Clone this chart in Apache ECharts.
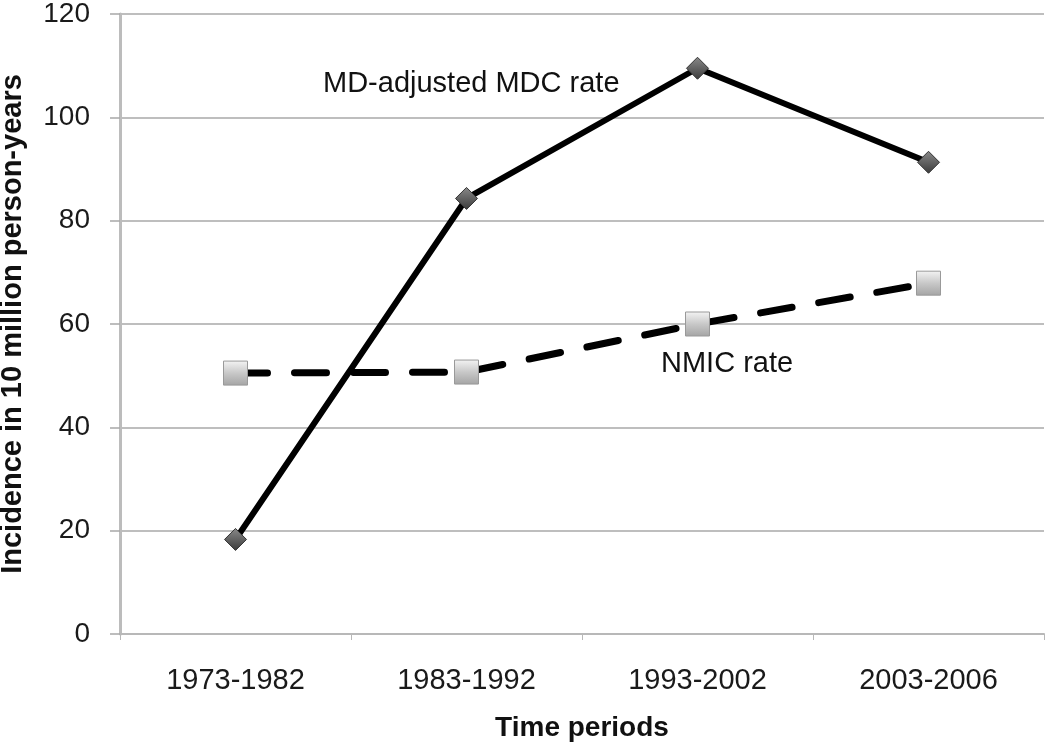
<!DOCTYPE html>
<html><head><meta charset="utf-8">
<script src="https://cdn.jsdelivr.net/npm/echarts@6/dist/echarts.min.js"></script>
<style>html,body{margin:0;padding:0;background:#fff}#c{width:1050px;height:748px}</style>
</head><body><div id="c"></div>
<script>
const categories = ['1973-1982', '1983-1992', '1993-2002', '2003-2006'];
const mdAdjustedMdcRate = [18.3, 84.3, 109.5, 91.3];
const nmicRate = [50.5, 50.7, 60.0, 67.9];
const yTicks = { min: 0, max: 120, interval: 20 };

const chart = echarts.init(document.getElementById('c'));
const font = 'Liberation Sans, Arial, sans-serif';
chart.setOption({
  animation: false,
  backgroundColor: '#fff',
  grid: { left: 120, right: 6, top: 14, bottom: 114, containLabel: false, outerBoundsMode: 'none' },
  xAxis: {
    type: 'category', data: categories, boundaryGap: true,
    name: 'Time periods', nameLocation: 'middle', nameGap: 80,
    nameTextStyle: { fontFamily: font, fontSize: 28, fontWeight: 'bold', color: '#111' },
    axisLine: { lineStyle: { color: '#b8b8b8', width: 2 } },
    axisTick: { show: true, length: 6, lineStyle: { color: '#b8b8b8', width: 1 } },
    axisLabel: { fontFamily: font, fontSize: 29, color: '#1a1a1a', margin: 32 }
  },
  yAxis: {
    type: 'value', min: yTicks.min, max: yTicks.max, interval: yTicks.interval,
    name: 'Incidence in 10 million person-years', nameLocation: 'middle', nameGap: 93,
    nameTextStyle: { fontFamily: font, fontSize: 29, fontWeight: 'bold', color: '#111' },
    axisLine: { show: true, lineStyle: { color: '#bcbcbc', width: 3 } },
    axisTick: { show: true, length: 10, lineStyle: { color: '#a8a8a8', width: 1.5 } },
    axisLabel: { fontFamily: font, fontSize: 28, color: '#1a1a1a', margin: 30 },
    splitLine: { lineStyle: { color: '#a8a8a8', width: 1.5 } }
  },
  series: [
    {
      name: 'MD-adjusted MDC rate', type: 'line', data: mdAdjustedMdcRate,
      lineStyle: { color: '#000', width: 6 },
      symbol: 'diamond', symbolSize: 22,
      itemStyle: {
        color: new echarts.graphic.LinearGradient(0, 0, 0, 1, [
          { offset: 0, color: '#8a8a8a' }, { offset: 1, color: '#3a3a3a' }]),
        borderColor: '#333', borderWidth: 1
      },
      z: 3
    },
    {
      name: 'NMIC rate', type: 'line', data: nmicRate,
      lineStyle: { color: '#000', width: 7, type: [32, 27], cap: 'round' },
      symbol: 'rect', symbolSize: 24,
      itemStyle: {
        color: new echarts.graphic.LinearGradient(0, 0, 0, 1, [
          { offset: 0, color: '#f4f4f4' }, { offset: 0.5, color: '#c8c8c8' }, { offset: 1, color: '#a4a4a4' }]),
        borderColor: '#999', borderWidth: 1
      },
      z: 2
    }
  ],
  graphic: [
    { type: 'text', style: { x: 323, y: 84, text: 'MD-adjusted MDC rate', font: '29px ' + font, fill: '#111', verticalAlign: 'middle' } },
    { type: 'text', style: { x: 661, y: 364, text: 'NMIC rate', font: '29px ' + font, fill: '#111', verticalAlign: 'middle' } }
  ]
});
</script></body></html>
